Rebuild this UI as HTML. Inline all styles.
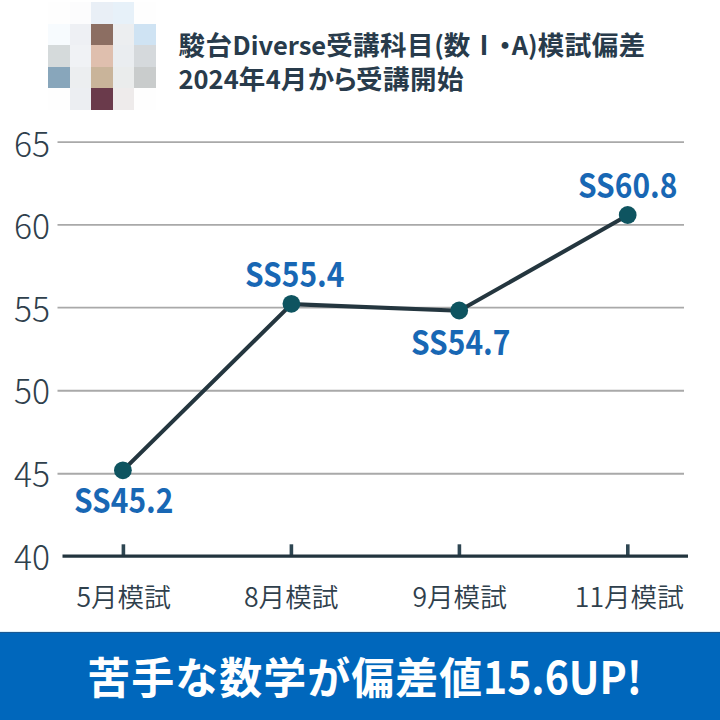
<!DOCTYPE html>
<html lang="ja">
<head>
<meta charset="utf-8">
<style>
html,body{margin:0;padding:0;}
body{width:720px;height:720px;overflow:hidden;background:#fff;position:relative;font-family:"Noto Sans CJK JP",sans-serif;}
.ab{position:absolute;white-space:nowrap;}
#mosaic{position:absolute;left:48px;top:2px;width:108px;height:108px;}
#mosaic div{position:absolute;width:21.6px;height:21.6px;}
.title{left:178.5px;font-weight:700;font-size:26.5px;letter-spacing:0.5px;color:#283b4b;line-height:1;}
.title .l{font-size:25.5px;letter-spacing:0;}
.title .d{display:inline-block;margin:0 -7px 0 -6px;}
.ylab{left:14px;font-weight:300;font-size:34px;transform:scaleX(0.99);transform-origin:0 0;color:#2f404c;line-height:1;}
.xlab{width:200px;text-align:center;top:582.8px;font-weight:350;font-size:26.6px;color:#2f404c;line-height:1;}
.dlab{font-weight:700;font-size:34px;color:#1867b4;line-height:1;transform:scaleX(0.88);transform-origin:0 0;}
#band{position:absolute;left:0;top:632px;width:720px;height:88px;background:#0067bc;box-sizing:border-box;border-top:1px solid #1a5892;}
#halo{position:absolute;left:0;top:631px;width:720px;height:1px;background:#dcf0fa;}
#band .bj{position:absolute;left:87.2px;top:20.8px;font-weight:700;font-size:43px;letter-spacing:1px;color:#fff;line-height:1;white-space:nowrap;}
#band .bl{position:absolute;left:483px;top:18.8px;font-weight:700;font-size:45px;color:#fff;line-height:1;white-space:nowrap;transform:scaleX(0.91);transform-origin:0 0;}
</style>
</head>
<body>
<div id="mosaic">
<div style="left:0;top:0;background:#fefefe"></div>
<div style="left:21.6px;top:0;background:#fcfcfd"></div>
<div style="left:43.2px;top:0;background:#e9eff6"></div>
<div style="left:64.8px;top:0;background:#e7f1f9"></div>
<div style="left:86.4px;top:0;background:#fefefe"></div>
<div style="left:0;top:21.6px;background:#f7fbfe"></div>
<div style="left:21.6px;top:21.6px;background:#eef0f4"></div>
<div style="left:43.2px;top:21.6px;background:#8c6e62"></div>
<div style="left:64.8px;top:21.6px;background:#eceef0"></div>
<div style="left:86.4px;top:21.6px;background:#cfe3f3"></div>
<div style="left:0;top:43.2px;background:#d5dadb"></div>
<div style="left:21.6px;top:43.2px;background:#f0f2f5"></div>
<div style="left:43.2px;top:43.2px;background:#dfbfae"></div>
<div style="left:64.8px;top:43.2px;background:#eaedf0"></div>
<div style="left:86.4px;top:43.2px;background:#d5d9dc"></div>
<div style="left:0;top:64.8px;background:#88a6bb"></div>
<div style="left:21.6px;top:64.8px;background:#eceef0"></div>
<div style="left:43.2px;top:64.8px;background:#c9b49a"></div>
<div style="left:64.8px;top:64.8px;background:#eaecec"></div>
<div style="left:86.4px;top:64.8px;background:#c9cccc"></div>
<div style="left:0;top:86.4px;background:#fefefe"></div>
<div style="left:21.6px;top:86.4px;background:#eceef2"></div>
<div style="left:43.2px;top:86.4px;background:#6a3a4b"></div>
<div style="left:64.8px;top:86.4px;background:#eeebeb"></div>
<div style="left:86.4px;top:86.4px;background:#fefefe"></div>
</div>

<div id="t1" class="ab title" style="top:30.5px;">駿台<span class="l">Diverse</span>受講科目<span class="l">(</span>数Ⅰ<span class="d">・</span><span class="l">A)</span>模試偏差</div>
<div id="t2" class="ab title" style="top:64.5px;"><span class="l">2024</span>年<span class="l">4</span>月<span style="letter-spacing:-2.4px">から</span>受講開始</div>

<svg id="chart" class="ab" style="left:0;top:0" width="720" height="720" viewBox="0 0 720 720">
  <g stroke="#a9a9a9" stroke-width="1.9">
    <line x1="57.5" y1="142.1" x2="684" y2="142.1"/>
    <line x1="57.5" y1="224.9" x2="684" y2="224.9"/>
    <line x1="57.5" y1="307.6" x2="684" y2="307.6"/>
    <line x1="57.5" y1="390.8" x2="684" y2="390.8"/>
    <line x1="57.5" y1="473.7" x2="684" y2="473.7"/>
  </g>
  <g stroke="#2e4652" stroke-width="3.6">
    <line x1="123.4" y1="544.3" x2="123.4" y2="556"/>
    <line x1="291.4" y1="544.3" x2="291.4" y2="556"/>
    <line x1="459.4" y1="544.3" x2="459.4" y2="556"/>
    <line x1="627.8" y1="544.3" x2="627.8" y2="556"/>
  </g>
  <line x1="62.5" y1="556.2" x2="688" y2="556.2" stroke="#22343e" stroke-width="3.2"/>
  <polyline points="123,470.4 291.5,304.1 459.2,310.8 627.7,215.3" fill="none" stroke="#24363f" stroke-width="4.1" stroke-linejoin="round"/>
  <g fill="#0e5460">
    <circle cx="122.9" cy="470.3" r="8.9"/>
    <circle cx="291.4" cy="303.8" r="8.9"/>
    <circle cx="459.2" cy="310.5" r="8.9"/>
    <circle cx="627.7" cy="215" r="8.9"/>
  </g>
</svg>

<div id="y65" class="ab ylab" style="top:125.6px;">65</div>
<div id="y60" class="ab ylab" style="top:208.2px;">60</div>
<div id="y55" class="ab ylab" style="top:290.8px;">55</div>
<div id="y50" class="ab ylab" style="top:373.4px;">50</div>
<div id="y45" class="ab ylab" style="top:456.2px;">45</div>
<div id="y40" class="ab ylab" style="top:538.8px;">40</div>

<div id="x5" class="ab xlab" style="left:23.6px;">5月模試</div>
<div id="x8" class="ab xlab" style="left:191.2px;">8月模試</div>
<div id="x9" class="ab xlab" style="left:359.6px;">9月模試</div>
<div id="x11" class="ab xlab" style="left:529.3px;">11月模試</div>

<div id="d1" class="ab dlab" style="left:74px;top:482.4px;">SS45.2</div>
<div id="d2" class="ab dlab" style="left:244.8px;top:256.3px;">SS55.4</div>
<div id="d3" class="ab dlab" style="left:410.8px;top:323.6px;">SS54.7</div>
<div id="d4" class="ab dlab" style="left:577.7px;top:166.6px;">SS60.8</div>

<div id="halo"></div>
<div id="band"><span id="bj" class="bj">苦手な数学が偏差値</span><span id="bl" class="bl">15.6UP!</span></div>
</body>
</html>
